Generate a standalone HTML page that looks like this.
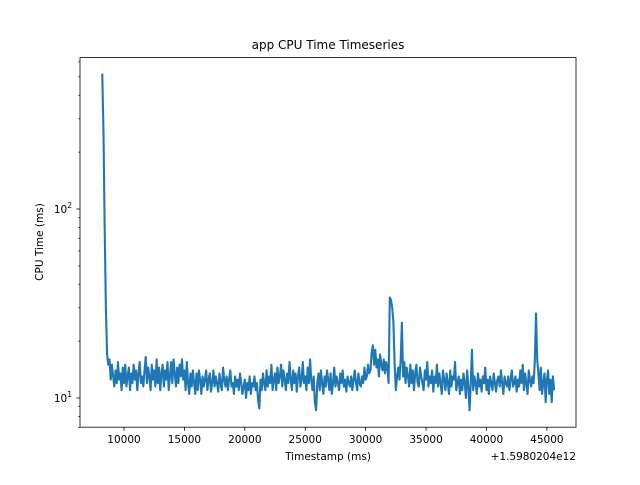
<!DOCTYPE html>
<html><head><meta charset="utf-8"><style>
body{margin:0;background:#fff;}
svg text{font-family:"DejaVu Sans","Liberation Sans",sans-serif;fill:#000;}
</style></head><body>
<svg id="chart" width="640" height="480" viewBox="0 0 640 480" xmlns="http://www.w3.org/2000/svg">
<rect x="0" y="0" width="640" height="480" fill="#fff"/>
<text x="328" y="49" font-size="12" text-anchor="middle">app CPU Time Timeseries</text>
<path id="series" fill="none" stroke="#1f77b4" stroke-width="2.1" stroke-linejoin="round"/>
<rect x="80" y="57.6" width="496" height="369.6" fill="none" stroke="#000" stroke-width="0.8"/>
<g id="axes"></g>
<text x="328" y="460" font-size="10.5" text-anchor="middle">Timestamp (ms)</text>
<text x="576" y="460" font-size="10.5" text-anchor="end">+1.5980204e12</text>
<text transform="translate(43,242) rotate(-90)" font-size="10.5" text-anchor="middle">CPU Time (ms)</text>
</svg>
<script>
const startTime = 8200;
const interval = 100;
const cpuValues = [
520,260,80,30,17,15,
16,12.5,15,13,11.5,14,12,15.5,12.5,13.5,
11,14.5,12,15,11.5,13,14.5,11,13.5,12,
15,12.5,14,11,13.5,15.5,12,13,11.5,14,
16.5,12,14.5,13,11,15,12.5,14,11.5,16,
12,14.5,11,13.5,15,11.5,14,12.5,15.5,11,
13,15.5,12,16,13.5,11.5,14.5,12,15,13,
16,12.5,14,11,15.5,12,10.5,13.5,11.5,14,
12,10.5,13.5,11,14,12.5,10.5,13,11.5,12.5,
14,11,12.5,13.5,10.8,12,14,11.5,13,12,
10.8,13.5,12,11,14.5,12.5,11.5,13,11,12.5,
14,11.5,12,10.5,13,11.5,12.5,11,13.5,12,
10.5,11.5,12.5,10,12,11,13,10.5,12,11.5,
13,11,12,9.8,8.8,12.5,11,13.5,12,11,
14,11.5,13,12,15,11,12.5,13.5,11,14.5,
12,13,15,11.5,14,12.5,11,13.5,12,15.5,
12.5,11,14,12,13.5,10.8,13,14.5,11.5,12.5,
15.5,12,13,11,14.5,12,16,12.5,11,13,
9.5,8.6,12,13.5,11,14,12,10.5,13,11.5,
14,12.5,11,13.5,10.5,12,14.5,11.5,13,12,
11,13.5,12,14,11.5,12.5,10.8,13,12,11.5,
13,11,12.5,14,12,11,13.5,12,11.5,13,
12,14.5,12.5,13,15,13.5,14,17.5,19,15,
18,14.5,16,13,17,15,14,16,13.5,15.5,
14.5,12,34,33,30,25,15,11,13,14.5,
12.5,16,25,13,15.5,12,14.5,13,11.5,15,
12,14,11,13.5,15,12,11.5,14.5,13,12,
11,14,12.5,15.5,11.5,13,12,14,10.8,13,
12,15,11.5,13.5,12,10.5,14,12.5,11,13.5,
12,10.5,14,11.5,13,12.5,15.5,11,12,13,
10.5,12.5,11,13.5,12,10,14,11.5,8.6,12,
18,11,13,12,10.5,13.5,11.5,12.5,10.8,13,
12,14.5,11,12.5,10.5,13,12,11,13.5,12,
10.8,12.5,13,11.5,14,12,10.5,13,12,11.5,
13,11,12.5,14,11.5,12,13,10.8,12.5,11.5,
14,12,15,11,13.5,12,10.5,14,12.5,11.5,
13,12,15.5,28,16,13.5,11,14.5,10.5,12,
13.5,9.5,12.5,14,10.5,12.5,9.5,13,11];
const xTicks = [10000,15000,20000,25000,30000,35000,40000,45000];
const yMajor = [10,100];
const yMajorLabels = ["1","2"];
const yMinor = [7,8,9,20,30,40,50,60,70,80,90,200,300,400,500,600];

const xs = t => 124 + (t - 10000) * 0.012082;
const ys = v => 398 - 189 * Math.log10(v / 10);
const NS = "http://www.w3.org/2000/svg";
const axes = document.getElementById('axes');

let d = "";
cpuValues.forEach((v,i)=>{ d += (i?"L":"M") + xs(startTime+i*interval).toFixed(2) + "," + ys(v).toFixed(2); });
document.getElementById('series').setAttribute('d', d);

function line(x1,y1,x2,y2){const l=document.createElementNS(NS,'line');l.setAttribute('x1',x1);l.setAttribute('y1',y1);l.setAttribute('x2',x2);l.setAttribute('y2',y2);l.setAttribute('stroke','#000');l.setAttribute('stroke-width','0.8');axes.appendChild(l);return l;}

xTicks.forEach(t=>{
  const x = xs(t);
  const l = line(x,427.2,x,430.7);
  
  
  const tx=document.createElementNS(NS,'text');
  tx.setAttribute('x',x);tx.setAttribute('y',443);tx.setAttribute('font-size','10.5');tx.setAttribute('text-anchor','middle');
  tx.textContent=t;
  
  
  axes.appendChild(tx);
});
yMajor.forEach((v,i)=>{
  const y = ys(v);
  const l = line(76.5,y,80,y);
  
  
  const tx=document.createElementNS(NS,'text');
  tx.setAttribute('x',72);tx.setAttribute('y',y+4);tx.setAttribute('font-size','10.5');tx.setAttribute('text-anchor','end');
  tx.innerHTML='10<tspan dy="-5" font-size="7.5">'+yMajorLabels[i]+'</tspan>';
  
  
  axes.appendChild(tx);
});
yMinor.forEach(v=>{
  const y=ys(v);
  const l=line(78,y,80,y);
  l.setAttribute('stroke-width','0.6');
  
  
});
</script>
</body></html>
